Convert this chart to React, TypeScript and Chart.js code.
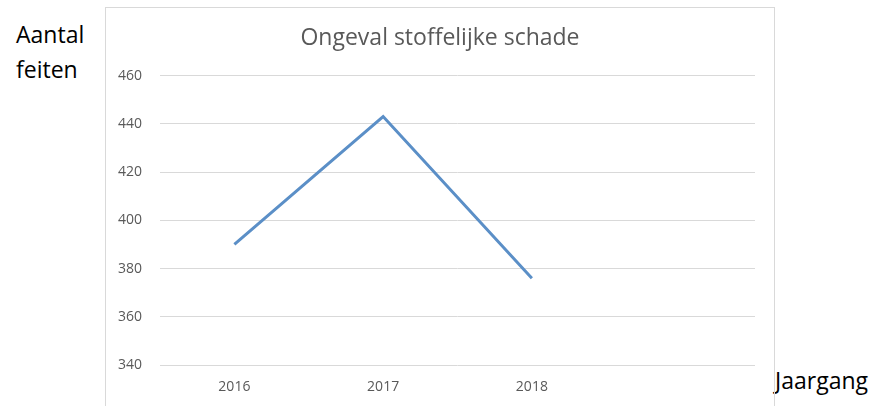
import React, { useEffect, useRef } from "react";
import { Chart, registerables } from "chart.js";

Chart.register(...registerables);

const years = ["2016", "2017", "2018", ""];
const feiten = [390, 443, 376, null];
const yTicks = { min: 340, max: 460, step: 20 };
const titleText = "Ongeval stoffelijke schade";
const yAxisLabel = ["Aantal", "feiten"];
const xAxisLabel = "Jaargang";

export default function App() {
  const ref = useRef<HTMLCanvasElement>(null);
  useEffect(() => {
    if (!ref.current) return;
    const chart = new Chart(ref.current, {
      type: "line",
      data: {
        labels: years,
        datasets: [
          {
            data: feiten,
            borderColor: "#5b8fc7",
            borderWidth: 3,
            pointRadius: 0,
            tension: 0,
            fill: false,
          },
        ],
      },
      options: {
        animation: false,
        responsive: false,
        layout: { padding: 0 },
        plugins: {
          legend: { display: false },
          tooltip: { enabled: false },
          title: {
            display: true,
            text: titleText,
            color: "#595959",
            font: { family: "Open Sans", size: 23, weight: "normal" },
            padding: { top: 17, bottom: 23 },
          },
        },
        scales: {
          x: {
            offset: true,
            grid: { display: false, drawTicks: false },
            border: { display: false },
            ticks: {
              color: "#595959",
              font: { family: "Open Sans", size: 14 },
              padding: 14,
              maxRotation: 0,
            },
            afterFit: (s: any) => {
              s.height = 41;
            },
          },
          y: {
            min: yTicks.min,
            max: yTicks.max,
            grid: { color: "#d9d9d9", drawTicks: false, lineWidth: 1 },
            border: { display: false },
            ticks: {
              stepSize: yTicks.step,
              color: "#595959",
              font: { family: "Open Sans", size: 14 },
              padding: 18,
            },
            afterFit: (s: any) => {
              s.width = 54;
            },
          },
          yRight: {
            type: "linear",
            position: "right",
            min: yTicks.min,
            max: yTicks.max,
            grid: { display: false, drawTicks: false },
            border: { display: false },
            ticks: { display: false },
            afterFit: (s: any) => {
              s.width = 19;
            },
          },
        },
      },
    });
    return () => chart.destroy();
  }, []);

  return (
    <div
      style={{
        position: "absolute",
        left: 0,
        top: 0,
        width: 875,
        height: 406,
        overflow: "hidden",
        background: "#fff",
        fontFamily: "Open Sans",
      }}
    >
      <div
        style={{
          position: "absolute",
          left: 16,
          top: 17,
          fontSize: 23,
          lineHeight: "35px",
          color: "#000",
        }}
      >
        {yAxisLabel.map((l) => (
          <div key={l}>{l}</div>
        ))}
      </div>
      <div
        style={{
          position: "absolute",
          left: 775,
          top: 363,
          fontSize: 23,
          lineHeight: "35px",
          color: "#000",
        }}
      >
        {xAxisLabel}
      </div>
      <div
        style={{
          position: "absolute",
          left: 105,
          top: 7,
          width: 668,
          height: 410,
          border: "1px solid #d9d9d9",
          borderBottom: "none",
        }}
      >
        <canvas ref={ref} width={668} height={398} style={{ display: "block" }} />
      </div>
    </div>
  );
}
